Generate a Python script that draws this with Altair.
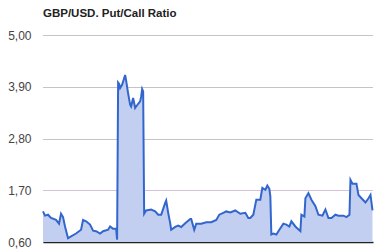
import altair as alt
import pandas as pd

days = [0, 2, 5, 8, 13, 16, 18, 20, 22, 25, 28, 33, 38, 40, 43, 47, 50, 53, 57, 60,
        65, 67, 70, 73, 74, 75, 76, 77, 79, 81, 82, 83, 85, 87, 88, 90, 92, 93, 97, 98,
        99, 100, 101, 103, 108, 112, 115, 118, 122, 123, 125, 127, 128, 132, 135, 138, 142, 147, 148, 151,
        153, 158, 163, 168, 173, 176, 180, 183, 187, 192, 197, 202, 205, 207, 210, 213, 217, 219, 222, 224,
        226, 227, 228, 230, 233, 236, 240, 243, 246, 248, 252, 257, 258, 261, 262, 265, 268, 272, 275, 279,
        282, 285, 288, 292, 295, 300, 303, 306, 307, 309, 313, 315, 318, 322, 325, 327, 329]
ratio = [1.25, 1.16, 1.18, 1.11, 1.07, 0.99, 1.20, 1.13, 0.93, 0.68, 0.72, 0.78, 0.86, 1.07, 1.04, 0.97, 0.84, 0.83, 0.78, 0.83,
         0.86, 0.93, 0.88, 0.88, 0.65, 3.99, 3.96, 3.87, 3.94, 4.08, 4.15, 4.03, 3.76, 3.52, 3.48, 3.66, 3.45, 3.48, 3.59, 3.69,
         3.85, 3.80, 1.20, 1.27, 1.29, 1.25, 1.18, 1.18, 1.43, 1.48, 1.22, 1.00, 0.86, 0.92, 0.95, 0.92, 1.00, 1.09, 1.09, 0.86,
         0.99, 0.99, 1.02, 1.02, 1.07, 1.18, 1.22, 1.25, 1.23, 1.27, 1.20, 1.22, 1.11, 1.11, 1.18, 1.50, 1.50, 1.75, 1.71, 1.80,
         1.73, 1.57, 0.76, 0.78, 0.76, 0.86, 0.99, 0.97, 0.93, 1.04, 0.93, 0.83, 1.18, 1.14, 1.53, 1.64, 1.50, 1.36, 1.18, 1.16,
         1.29, 1.11, 1.11, 1.18, 1.16, 1.16, 1.13, 1.18, 1.92, 1.84, 1.84, 1.60, 1.53, 1.44, 1.53, 1.60, 1.27]
y_ticks = [0.6, 1.7, 2.8, 3.9, 5.0]

df = pd.DataFrame({"day": days, "ratio": ratio})

x = alt.X("day:Q", scale=alt.Scale(domain=[0, 329.5], nice=False, zero=False),
          axis=alt.Axis(labels=False, ticks=False, grid=False, title=None,
                        domainColor="#222222", domainWidth=1.5))
y = alt.Y("ratio:Q", scale=alt.Scale(domain=[0.6, 5.0], nice=False, zero=False),
          axis=alt.Axis(values=y_ticks, title=None, domain=False, ticks=False,
                        labelExpr="replace(format(datum.value, '.2f'), '.', ',')",
                        labelFont="Liberation Sans", labelFontSize=12, labelColor="#444444",
                        labelPadding=12,
                        gridDash=[1, 1],
                        gridColor={"condition": {"test": "datum.value == 1.7", "value": "#b080b8"},
                                   "value": "#888888"}))

area = alt.Chart(df).mark_area(color="#c2cff0", opacity=1).encode(x=x, y=y, y2=alt.datum(0.6))
line = alt.Chart(df).mark_line(color="#3366cc", strokeWidth=2).encode(x=x, y=y)

chart = (area + line).properties(
    width=330, height=207,
    title=alt.TitleParams("GBP/USD. Put/Call Ratio", anchor="start", frame="group",
                          font="Liberation Sans", fontSize=11.5, fontWeight="bold",
                          color="#222222", offset=10),
    autosize=alt.AutoSizeParams(type="none"),
    padding={"left": 43, "top": 35, "right": 11, "bottom": 7},
).configure_view(stroke=None)

chart.save("out.html", embed_options={"renderer": "svg", "actions": False})
